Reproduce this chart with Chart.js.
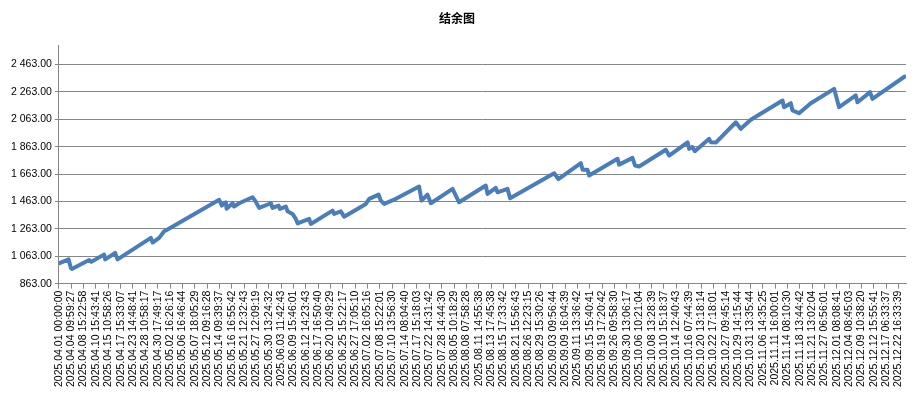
<!DOCTYPE html>
<html>
<head>
<meta charset="utf-8">
<script src="https://cdn.jsdelivr.net/npm/chart.js@4/dist/chart.umd.min.js"></script>
<style>
  body { margin: 0; background: #fff; }
  canvas { display: block; }
</style>
</head>
<body>
<canvas id="balanceChart" width="920" height="400"></canvas>
<script>
// 结余图 - balance curve, x is position along the trade list (1 unit = one label step)

const tickLabels = [
    '2025.04.01 00:00:00', '2025.04.04 09:59:27', '2025.04.08 15:22:58', '2025.04.10 15:43:41',
    '2025.04.15 10:58:26', '2025.04.17 15:33:07', '2025.04.23 14:48:41', '2025.04.28 10:58:17',
    '2025.04.30 17:49:17', '2025.05.02 16:26:16', '2025.05.06 16:46:44', '2025.05.07 18:05:29',
    '2025.05.12 09:16:28', '2025.05.14 09:39:37', '2025.05.16 16:55:42', '2025.05.21 12:32:43',
    '2025.05.27 12:09:19', '2025.05.30 13:24:32', '2025.06.03 11:42:43', '2025.06.09 15:46:01',
    '2025.06.12 14:23:43', '2025.06.17 16:50:40', '2025.06.20 10:49:29', '2025.06.25 15:22:17',
    '2025.06.27 17:05:10', '2025.07.02 16:05:16', '2025.07.08 15:22:01', '2025.07.10 13:56:30',
    '2025.07.14 08:04:40', '2025.07.17 15:18:03', '2025.07.22 14:31:42', '2025.07.28 14:44:30',
    '2025.08.05 10:18:29', '2025.08.08 07:58:28', '2025.08.11 14:55:38', '2025.08.13 17:45:38',
    '2025.08.15 17:33:42', '2025.08.21 15:56:43', '2025.08.26 12:23:15', '2025.08.29 15:30:26',
    '2025.09.03 09:56:44', '2025.09.09 16:04:39', '2025.09.11 13:36:42', '2025.09.15 15:40:41',
    '2025.09.19 17:20:42', '2025.09.26 09:58:30', '2025.09.30 13:06:17', '2025.10.06 10:21:04',
    '2025.10.08 13:28:39', '2025.10.10 15:18:37', '2025.10.14 12:40:43', '2025.10.16 07:44:39',
    '2025.10.20 13:18:14', '2025.10.22 17:18:01', '2025.10.27 09:45:14', '2025.10.29 14:15:44',
    '2025.10.31 13:35:44', '2025.11.06 14:35:25', '2025.11.11 16:00:01', '2025.11.14 08:10:30',
    '2025.11.18 13:44:42', '2025.11.21 13:02:04', '2025.11.27 06:56:01', '2025.12.01 08:08:41',
    '2025.12.04 08:45:03', '2025.12.09 10:38:20', '2025.12.12 15:55:41', '2025.12.17 06:33:37',
    '2025.12.22 16:33:39'
];

const yTicks = [863, 1063, 1263, 1463, 1663, 1863, 2063, 2263, 2463];

// position on the x axis (label steps) and balance at that point
const pointPos = [
    0.00, 0.79, 0.97, 1.05, 2.45, 2.62, 3.67, 3.75, 4.56, 4.75,
    7.45, 7.59, 8.12, 8.53, 8.80, 12.98, 13.20, 13.52, 13.58, 14.06,
    14.19, 14.60, 15.68, 15.89, 16.22, 17.17, 17.30, 17.79, 17.89, 18.38,
    18.52, 18.92, 19.19, 19.33, 20.27, 20.40, 22.16, 22.29, 22.83, 23.10,
    24.86, 25.13, 25.89, 26.07, 26.34, 27.29, 29.17, 29.37, 29.85, 30.12,
    31.88, 32.41, 34.57, 34.71, 35.38, 35.52, 36.33, 36.54, 40.11, 40.45,
    42.27, 42.41, 42.81, 42.94, 45.24, 45.37, 46.45, 46.66, 46.99, 49.15,
    49.42, 50.91, 51.04, 51.30, 51.50, 52.66, 52.79, 53.20, 54.82, 55.22,
    56.03, 58.60, 58.72, 59.27, 59.41, 59.94, 60.89, 62.78, 63.18, 64.53,
    64.67, 65.69, 65.88, 68.50
];
const balance = [
    1011, 1040, 978, 970, 1036, 1022, 1075, 1040, 1087, 1040,
    1197, 1163, 1197, 1245, 1258, 1475, 1433, 1457, 1409, 1450,
    1426, 1450, 1494, 1469, 1416, 1450, 1416, 1433, 1409, 1426,
    1391, 1372, 1336, 1303, 1336, 1299, 1396, 1372, 1391, 1352,
    1445, 1482, 1513, 1469, 1445, 1482, 1572, 1469, 1513, 1450,
    1555, 1457, 1579, 1518, 1562, 1530, 1555, 1486, 1669, 1626,
    1742, 1694, 1694, 1652, 1774, 1732, 1781, 1725, 1718, 1840,
    1798, 1895, 1847, 1860, 1830, 1920, 1895, 1893, 2041, 1993,
    2059, 2200, 2151, 2180, 2127, 2107, 2180, 2285, 2151, 2237,
    2187, 2261, 2212, 2375
];

function fmtMoney(v) {
    const parts = v.toFixed(2).split('.');
    return parts[0].replace(/\B(?=(\d{3})+(?!\d))/g, ' ') + '.' + parts[1];
}

Chart.defaults.color = '#000';
Chart.defaults.font.family = '"Liberation Sans", Arial, sans-serif';
Chart.defaults.font.size = 10.5;

const ctx = document.getElementById('balanceChart').getContext('2d');
new Chart(ctx, {
    type: 'line',
    data: {
        datasets: [{
            label: '结余',
            data: pointPos.map((x, i) => ({ x: x, y: balance[i] })),
            borderColor: '#4a7ebb',
            borderWidth: 4,
            borderJoinStyle: 'round',
            borderCapStyle: 'round',
            pointRadius: 0,
            tension: 0,
            fill: false
        }]
    },
    options: {
        responsive: false,
        animation: false,
        layout: { padding: { left: 8, right: 14, top: 0, bottom: 11 } },
        plugins: {
            legend: { display: false },
            tooltip: { enabled: false },
            title: {
                display: true,
                text: '结余图',
                color: '#000',
                font: { family: '"Noto Sans CJK SC", sans-serif', size: 12, weight: 'bold' },
                padding: { top: 11, bottom: 20 }
            }
        },
        scales: {
            x: {
                type: 'linear',
                min: 0,
                max: 68.6,
                afterBuildTicks: axis => { axis.ticks = tickLabels.map((_, i) => ({ value: i })); },
                ticks: {
                    autoSkip: false,
                    maxRotation: 90,
                    minRotation: 90,
                    padding: 2,
                    callback: v => tickLabels[v]
                },
                grid: { drawOnChartArea: false, tickLength: 5, color: '#868686' },
                border: { color: '#868686' }
            },
            y: {
                min: 863,
                max: 2602,
                afterBuildTicks: axis => { axis.ticks = yTicks.map(v => ({ value: v })); },
                ticks: { padding: 3, callback: v => fmtMoney(v) },
                grid: { color: '#868686', tickLength: 4 },
                border: { color: '#868686' }
            }
        }
    }
});
</script>
</body>
</html>
